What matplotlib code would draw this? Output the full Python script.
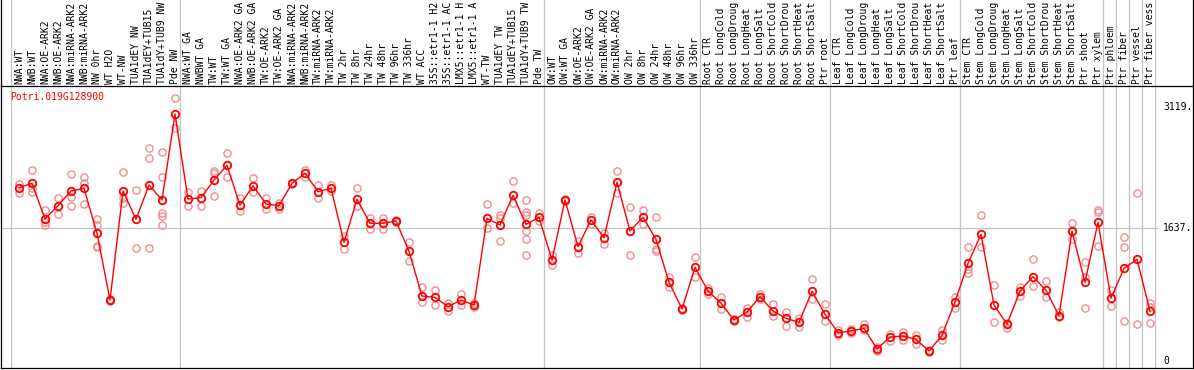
import matplotlib
matplotlib.use("Agg")
import matplotlib.pyplot as plt
from matplotlib.lines import Line2D
import matplotlib.transforms as mtransforms
import numpy as np

# ---------------- data ----------------
title = "Potri.019G128900"

labels = [
    "NWA:WT", "NWB:WT", "NWA:OE-ARK2", "NWB:OE-ARK2", "NWA:miRNA-ARK2", "NWB:miRNA-ARK2",
    "NW 0hr", "WT H2O", "WT-NW", "TUA1dEY NW", "TUA1dEY+TUB15", "TUA1dY+TUB9 NW", "Pde NW",
    "NWA:WT GA", "NWBWT GA", "TW:WT", "TW:WT GA", "NWA:OE-ARK2 GA", "NWB:OE-ARK2 GA",
    "TW:OE-ARK2", "TW:OE-ARK2 GA", "NWA:miRNA-ARK2", "NWB:miRNA-ARK2", "TW:miRNA-ARK2",
    "TW:miRNA-ARK2", "TW 2hr", "TW 8hr", "TW 24hr", "TW 48hr", "TW 96hr", "TW 336hr",
    "WT ACC", "35S::etr1-1 H2", "35S::etr1-1 AC", "LMX5::etr1-1 H", "LMX5::etr1-1 A",
    "WT-TW", "TUA1dEY TW", "TUA1dEY+TUB15", "TUA1dY+TUB9 TW", "Pde TW",
    "OW:WT", "OW:WT GA", "OW:OE-ARK2", "OW:OE-ARK2 GA", "OW:miRNA-ARK2", "OW:miRNA-ARK2",
    "OW 2hr", "OW 8hr", "OW 24hr", "OW 48hr", "OW 96hr", "OW 336hr",
    "Root CTR", "Root LongCold", "Root LongDroug", "Root LongHeat", "Root LongSalt",
    "Root ShortCold", "Root ShortDrou", "Root ShortHeat", "Root ShortSalt", "Ptr root",
    "Leaf CTR", "Leaf LongCold", "Leaf LongDroug", "Leaf LongHeat", "Leaf LongSalt",
    "Leaf ShortCold", "Leaf ShortDrou", "Leaf ShortHeat", "Leaf ShortSalt", "Ptr leaf",
    "Stem CTR", "Stem LongCold", "Stem LongDroug", "Stem LongHeat", "Stem LongSalt",
    "Stem ShortCold", "Stem ShortDrou", "Stem ShortHeat", "Stem ShortSalt", "Ptr shoot",
    "Ptr xylem", "Ptr phloem", "Ptr fiber", "Ptr vessel", "Ptr fiber vess",
]

means = [
    2127, 2180, 1744, 1907, 2086, 2119, 1568, 752, 2086, 1740, 2160, 1976, 3028,
    1988, 2004, 2221, 2400, 1911, 2151, 1927, 1907, 2180, 2303, 2078, 2119, 1458,
    1984, 1691, 1691, 1719, 1348, 801, 785, 671, 752, 691, 1752, 1670, 2033, 1678, 1764,
    1242, 1976, 1405, 1731, 1515, 2193, 1597, 1764, 1495, 969, 642, 1152,
    863, 712, 508, 606, 793, 618, 528, 479, 859, 577,
    353, 373, 406, 153, 300, 312, 271, 128, 320, 728,
    1201, 1556, 691, 455, 863, 1038, 871, 561, 1593, 969, 1703,
    773, 1140, 1250, 618,
]

replicates = [
    [2168, 2066], [2343, 2119, 2070], [1854, 1711, 1670], [1997, 1801],
    [2294, 2016, 1907], [2254, 2180, 1927], [1744, 1670, 1413, 1397], [760, 745],
    [2315, 1997, 1936], [2098, 1389], [2608, 2486, 1389], [2563, 2261, 1813, 1780, 1666],
    [3220, 2853],
    [2070, 1903], [2090, 1903], [2331, 2303, 2025], [2547, 2254], [1997, 1841],
    [2241, 2078], [1997, 1862], [1943, 1866], [2170, 2190], [2343, 2254], [2160, 1997],
    [2160, 2090], [1539, 1373], [2119, 1903], [1760, 1617], [1760, 1617], [1730, 1710],
    [1458, 1233], [915, 724], [875, 691], [712, 622], [822, 691], [712, 670],
    [1923, 1629], [1792, 1760, 1474], [2209, 1936], [1976, 1833, 1792, 1600, 1499, 1303],
    [1813, 1723],
    [1303, 1181], [1990, 1960], [1474, 1331], [1772, 1682], [1568, 1438], [2331, 2058],
    [1890, 1303], [1854, 1682], [1768, 1373, 1350], [1038, 915], [655, 630], [1275, 1030],
    [903, 822], [785, 638], [515, 500], [651, 548], [826, 770], [699, 561], [610, 438],
    [528, 418], [1005, 761], [699, 499],
    [385, 324], [395, 345], [455, 380], [175, 130], [336, 255], [365, 260], [324, 214],
    [135, 120], [385, 263], [785, 651],
    [1401, 1087, 1130], [1789, 1397], [936, 479], [414, 470], [915, 805], [1250, 924],
    [985, 793], [610, 540], [1691, 1499], [1214, 1040, 651], [1854, 1835, 1417],
    [875, 679], [1520, 1397, 496], [2058, 455], [712, 671, 467],
]

group_ends = [12, 40, 52, 62, 72, 83, 84, 85, 86, 87]
grid_value = 1637
right_labels = [("3119.", 3119), ("1637.", 1637), ("0", 0)]

# ---------------- layout ----------------
W, H = 1194, 370
fig = plt.figure(figsize=(W / 100, H / 100), dpi=100)
fig.patch.set_facecolor("white")

ax_top_px, ax_bot_px = 85.5, 368.0
ax_left_px, ax_right_px = 0.8, 1193.2
ax = fig.add_axes([ax_left_px / W, (H - ax_bot_px) / H,
                   (ax_right_px - ax_left_px) / W, (ax_bot_px - ax_top_px) / H])

x0_px, dx_px = 19.0, 13.0
ax.set_xlim((ax_left_px - x0_px) / dx_px, (ax_right_px - x0_px) / dx_px)
zero_px, ppu = 361.5, 0.08173
ax.set_ylim((zero_px - ax_bot_px) / ppu, (zero_px - ax_top_px) / ppu)
ax.set_xticks([])
ax.set_yticks([])
for s in ax.spines.values():
    s.set_color("black")
    s.set_linewidth(0.9)

mono = "DejaVu Sans Mono"
grid_col = "#c4c4c4"
ext = 1 + ax_top_px / (ax_bot_px - ax_top_px)

# vertical group separators (extend into label area)
for xv in [-0.65] + [g + 0.4 for g in group_ends]:
    ax.axvline(xv, ymin=0, ymax=ext, color=grid_col, lw=0.9, clip_on=False, zorder=1)

# horizontal gridline
ax.hlines(grid_value, ax.get_xlim()[0], 87.6, color=grid_col, lw=0.9, zorder=1)

# extend left/right black border up to figure top
for xp in (ax_left_px, ax_right_px):
    fig.add_artist(Line2D([xp / W, xp / W], [(H - ax_top_px) / H, 1.0],
                          color="black", lw=0.9))

xs = np.arange(len(means))
rep_x = [i for i, r in enumerate(replicates) for _ in r]
rep_y = [v for r in replicates for v in r]
ax.plot(rep_x, rep_y, linestyle="none", marker="o", markersize=5.2,
        markerfacecolor="none", markeredgecolor="#ee9090", markeredgewidth=1.0, zorder=2)

ax.plot(xs, means, color="#ff0000", lw=1.0, zorder=3)
ax.plot(xs, means, linestyle="none", marker="o", markersize=5.4,
        markerfacecolor="none", markeredgecolor="#ff0000", markeredgewidth=1.3, zorder=4)

# sample labels
trans = mtransforms.blended_transform_factory(ax.transData, ax.transAxes)
lab_y = 1 + 2.0 / (ax_bot_px - ax_top_px)
for i, lab in enumerate(labels):
    ax.text(i, lab_y, lab, rotation=90, ha="center", va="bottom", transform=trans,
            fontsize=7, family=mono, color="black", clip_on=False)

# title
fig.text(10 / W, 1 - 97 / H, title, color="#ff0000", fontsize=7, family=mono,
         ha="left", va="center")

# right value labels
ytrans = ax.get_yaxis_transform()
xr = (1163 - ax_left_px) / (ax_right_px - ax_left_px)
for txt, v in right_labels:
    ax.text(xr, v, txt, transform=ytrans, ha="left", va="center",
            fontsize=7, family=mono, color="black")

fig.savefig("out.png", dpi=100)
